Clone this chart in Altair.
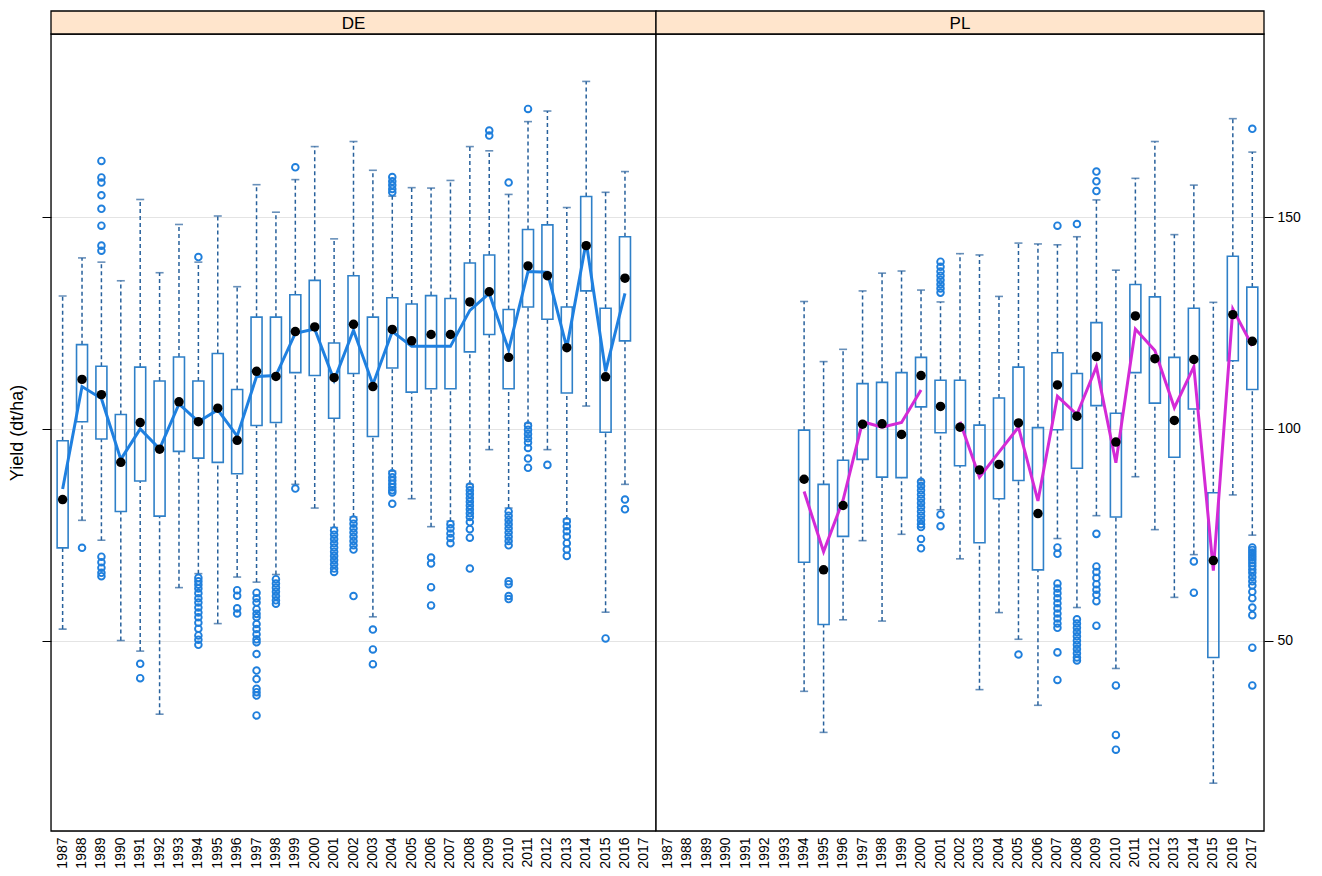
import altair as alt
import pandas as pd

# ---------------- data ----------------
years = [str(y) for y in range(1987, 2018)]
panels = ["DE", "PL"]
y_ticks = [50, 100, 150]

# Germany 1987-2016
de_years = list(range(1987, 2017))
de_q3 = [97.2, 119.9, 114.8, 103.4, 114.6, 111.3, 117.0, 111.3, 117.8, 109.3,
         126.4, 126.4, 131.7, 135.1, 120.3, 136.2, 126.4, 131.0, 129.5, 131.5,
         130.8, 139.2, 141.1, 128.2, 147.1, 148.2, 128.8, 154.9, 128.5, 145.4]
de_q1 = [71.9, 101.7, 97.6, 80.5, 87.7, 79.4, 94.7, 93.1, 92.1, 89.4,
         100.8, 101.5, 113.3, 112.6, 102.5, 113.1, 98.2, 114.4, 108.7, 109.5,
         109.5, 118.2, 122.3, 109.5, 128.8, 125.9, 108.5, 132.6, 99.2, 120.8]
de_med = [83.3, 111.7, 108.1, 92.1, 101.5, 95.2, 106.4, 101.7, 104.9, 97.3,
          113.6, 112.4, 123.0, 124.1, 112.1, 124.7, 110.0, 123.5, 120.8, 122.3,
          122.3, 130.0, 132.4, 116.9, 138.5, 136.2, 119.2, 143.3, 112.3, 135.6]
de_hi = [131.4, 140.4, 139.4, 135.0, 154.2, 136.9, 148.3, 139.4, 150.3, 133.6,
         157.7, 151.2, 158.9, 166.7, 144.9, 167.9, 161.1, 155.0, 157.0, 156.9,
         158.7, 166.7, 165.7, 155.4, 172.6, 175.1, 152.3, 182.1, 155.9, 160.8]
de_lo = [52.7, 78.4, 73.7, 50.0, 47.5, 32.6, 62.5, 65.8, 54.0, 65.0,
         63.8, 65.6, 86.9, 81.3, 76.7, 79.2, 55.6, 90.0, 83.5, 76.9,
         78.2, 86.9, 95.1, 81.3, 101.3, 95.1, 78.7, 105.4, 56.7, 86.9]
de_line = [85.8, 110.0, 107.2, 92.8, 100.0, 95.3, 105.9, 101.7, 104.5, 98.3,
           112.4, 112.6, 122.6, 123.6, 111.5, 123.3, 110.5, 123.0, 119.5, 119.5,
           119.5, 128.0, 132.0, 118.7, 137.2, 137.0, 119.2, 144.2, 113.6, 132.0]
de_seg = [0] * 30
de_outliers = {
    1988: [71.9],
    1989: [163.3, 159.4, 158.2, 155.2, 152.0, 148.0, 143.3, 142.1,
           69.8, 68.5, 67.2, 66.0, 65.2],
    1991: [44.5, 41.1],
    1994: [140.6, 64.8, 64.0, 63.2, 62.3, 61.2, 60.0, 59.0, 57.8, 56.6,
           55.5, 54.2, 52.8, 51.2, 50.2, 49.0],
    1996: [61.9, 60.6, 57.6, 56.4],
    1997: [61.3, 60.0, 59.0, 57.4, 56.3, 55.5, 53.9, 52.7, 51.5, 50.3,
           49.6, 46.8, 42.9, 40.9, 38.6, 37.8, 37.0, 32.3],
    1998: [64.5, 63.5, 62.5, 61.5, 60.5, 59.5, 58.7],
    1999: [161.8, 85.9],
    2001: [76.0, 75.0, 74.0, 73.0, 72.0, 71.0, 70.0, 69.0, 68.0, 67.0, 66.2],
    2002: [78.6, 77.6, 76.5, 75.5, 74.5, 73.5, 72.5, 71.5, 60.5],
    2003: [52.6, 47.9, 44.4],
    2004: [159.5, 158.5, 157.6, 156.7, 155.9, 89.5, 88.6, 87.8, 87.0,
           86.2, 85.5, 85.0, 82.3],
    2006: [69.6, 68.2, 62.6, 58.3],
    2007: [77.5, 76.5, 75.3, 74.2, 73.0],
    2008: [86.4, 85.5, 84.6, 83.7, 82.8, 81.9, 81.0, 80.1, 79.2, 78.0,
           76.3, 74.3, 67.0],
    2009: [170.5, 169.3],
    2010: [158.2, 80.5, 79.5, 78.5, 77.5, 76.5, 75.5, 74.5, 73.5, 72.5,
           64.0, 63.3, 60.5, 59.8],
    2011: [175.6, 100.8, 99.8, 98.8, 97.8, 96.8, 95.5, 93.0, 90.8],
    2012: [91.5],
    2013: [78.2, 77.0, 75.8, 74.6, 73.0, 71.5, 70.0],
    2015: [50.5],
    2016: [83.3, 81.0],
}

# Poland 1994-2017
pl_years = list(range(1994, 2018))
pl_q3 = [99.7, 86.9, 92.6, 110.7, 111.0, 113.3, 116.9, 111.5, 111.5, 100.9,
         107.3, 114.6, 100.3, 118.0, 113.1, 125.1, 103.7, 134.1, 131.2, 116.9,
         128.5, 84.9, 140.8, 133.5]
pl_q1 = [68.5, 53.8, 74.6, 92.8, 88.6, 88.5, 105.2, 99.1, 91.3, 73.1,
         83.5, 87.8, 66.7, 99.8, 90.7, 105.5, 79.2, 113.3, 106.1, 93.3,
         104.7, 46.0, 116.1, 109.3]
pl_med = [88.1, 66.7, 81.9, 101.1, 101.2, 98.7, 112.6, 105.3, 100.4, 90.3,
          91.6, 101.4, 80.0, 110.4, 103.0, 117.1, 96.9, 126.7, 116.6, 102.0,
          116.4, 68.9, 127.0, 120.7]
pl_hi = [130.1, 115.9, 118.8, 132.6, 136.8, 137.3, 132.8, 130.0, 141.4, 141.1,
         131.3, 143.9, 143.7, 143.5, 145.4, 154.1, 137.5, 159.2, 167.9, 145.9,
         157.6, 129.9, 173.3, 165.4]
pl_lo = [38.0, 28.3, 54.9, 73.6, 54.6, 75.1, 87.8, 80.9, 69.3, 38.4,
         56.6, 50.3, 34.7, 74.1, 57.8, 79.5, 43.4, 88.7, 76.2, 60.2,
         70.3, 16.3, 84.4, 74.9]
pl_line = [85.2, 71.0, 83.2, 101.7, 100.4, 101.5, 109.2, None, 101.7, 88.6,
           94.5, 100.4, 83.0, 107.7, 103.4, 114.7, 92.0, 123.6, 118.5, 105.0,
           114.7, 66.5, 128.3, 119.6]
pl_seg = [0] * 7 + [1] * 17
pl_outliers = {
    2000: [87.5, 86.5, 85.5, 84.5, 83.5, 82.5, 81.5, 80.5, 79.5, 78.5,
           77.5, 76.8, 74.0, 71.8],
    2001: [139.5, 138.3, 137.2, 136.2, 135.2, 134.2, 133.2, 132.2, 79.8, 77.0],
    2005: [46.7],
    2007: [148.0, 72.0, 70.5, 63.5, 62.3, 61.2, 60.0, 58.8, 57.6, 56.4,
           55.2, 54.0, 53.0, 47.2, 40.7],
    2008: [148.4, 55.0, 54.0, 53.0, 52.0, 51.0, 50.0, 49.0, 48.0, 47.0,
           46.0, 45.3],
    2009: [160.8, 158.5, 156.2, 75.2, 67.5, 66.2, 64.8, 63.3, 62.0, 60.8,
           59.3, 53.5],
    2010: [39.4, 27.7, 24.2],
    2014: [68.7, 61.3],
    2017: [170.9, 72.0, 71.4, 70.8, 70.2, 69.6, 69.0, 68.3, 67.6, 66.8,
           66.0, 65.0, 64.0, 63.0, 61.5, 60.0, 57.8, 56.0, 48.3, 39.4],
}

# ---------------- styling ----------------
H = 797
STRIP_H = 23
BOX_COL = "#2f80c8"
WHISK_COL = "#28619c"
OUT_COL = "#1f7fdc"
FONT = "Liberation Sans"

yscale = alt.Scale(domain=[5, 193.3], nice=False, zero=False)
xscale = alt.Scale(domain=years, paddingInner=0, paddingOuter=0.1)
xaxis = alt.Axis(labelAngle=-90, labelFontSize=14, labelColor="black", ticks=False,
                 domain=False, labelPadding=6, grid=False, labelFont=FONT)


def make_panel(name, W, yrs, q1, q3, med, lo, hi, line_vals, seg, outliers, line_col, left):
    ys = [str(y) for y in yrs]
    box = pd.DataFrame({"year": ys, "q1": q1, "q3": q3, "med": med, "lo": lo, "hi": hi})
    ln = pd.DataFrame({"year": ys, "v": line_vals, "seg": seg}).dropna()
    out = pd.DataFrame([(str(y), v) for y, vs in outliers.items() for v in vs],
                       columns=["year", "v"])
    strip = pd.DataFrame({"label": [name]})

    if left:
        yaxis = alt.Axis(orient="left", values=y_ticks, labels=False, tickSize=9,
                         tickColor="black", domain=False, grid=True, gridColor="#e4e4e4",
                         title="Yield (dt/ha)", titleFontSize=18, titleFontWeight="normal",
                         titleColor="black", titlePadding=15, titleFont=FONT)
    else:
        yaxis = alt.Axis(orient="right", values=y_ticks, labels=True, tickSize=9,
                         tickColor="black", domain=False, grid=True, gridColor="#e4e4e4",
                         labelFontSize=14, labelColor="black", labelPadding=4,
                         labelFont=FONT, title=None)

    def Y(f):
        return alt.Y(f, type="quantitative", scale=yscale, axis=yaxis)

    X = alt.X("year:N", scale=xscale, axis=xaxis, title=None)

    base = alt.Chart(box)
    whisk_lo = base.mark_rule(color=WHISK_COL, strokeWidth=1.5, strokeDash=[4, 3]).encode(
        x=X, y=Y("lo"), y2="q1")
    whisk_hi = base.mark_rule(color=WHISK_COL, strokeWidth=1.5, strokeDash=[4, 3]).encode(
        x=X, y=Y("q3"), y2="hi")
    cap_lo = base.mark_tick(color=WHISK_COL, size=8, thickness=1.6).encode(x=X, y=Y("lo"))
    cap_hi = base.mark_tick(color=WHISK_COL, size=8, thickness=1.6).encode(x=X, y=Y("hi"))
    boxes = base.mark_bar(size=11, fill="white", fillOpacity=0, stroke=BOX_COL,
                          strokeWidth=1.6).encode(x=X, y=Y("q1"), y2="q3")
    pts = alt.Chart(out).mark_point(shape="circle", filled=False, size=44,
                                    strokeWidth=1.9, color=OUT_COL, opacity=1).encode(
        x=X, y=Y("v"))
    line = alt.Chart(ln).mark_line(color=line_col, strokeWidth=3).encode(
        x=X, y=Y("v"), detail="seg:N")
    dots = base.mark_circle(size=90, color="black", opacity=1).encode(x=X, y=Y("med"))

    frame = alt.Chart(strip).mark_rect(fill="white", fillOpacity=0, stroke="black",
                                       strokeWidth=1.3).encode(
        x=alt.value(0), x2=alt.value(W), y=alt.value(0), y2=alt.value(H))
    strip_rect = alt.Chart(strip).mark_rect(fill="#ffe5cc", stroke="black",
                                            strokeWidth=1.3).encode(
        x=alt.value(0), x2=alt.value(W), y=alt.value(-STRIP_H), y2=alt.value(0))
    strip_text = alt.Chart(strip).mark_text(fontSize=17, font=FONT, color="black").encode(
        x=alt.value(W / 2), y=alt.value(-STRIP_H / 2 + 1), text="label:N")

    return alt.layer(whisk_lo, whisk_hi, cap_lo, cap_hi, boxes, pts, line, dots,
                     frame, strip_rect, strip_text).properties(width=W, height=H)


de = make_panel(panels[0], 605, de_years, de_q1, de_q3, de_med, de_lo, de_hi, de_line,
                de_seg, de_outliers, "#1f80e0", True)
pl = make_panel(panels[1], 608, pl_years, pl_q1, pl_q3, pl_med, pl_lo, pl_hi, pl_line,
                pl_seg, pl_outliers, "#d42ad6", False)

chart = alt.hconcat(de, pl, spacing=0, bounds="flush").resolve_scale(
    y="independent").properties(
    padding={"left": 0, "top": 1, "right": 5, "bottom": 5}
).configure_view(stroke="black", strokeWidth=1.2).configure(font=FONT)

chart.save("out.html", embed_options={"renderer": "svg", "actions": False})
